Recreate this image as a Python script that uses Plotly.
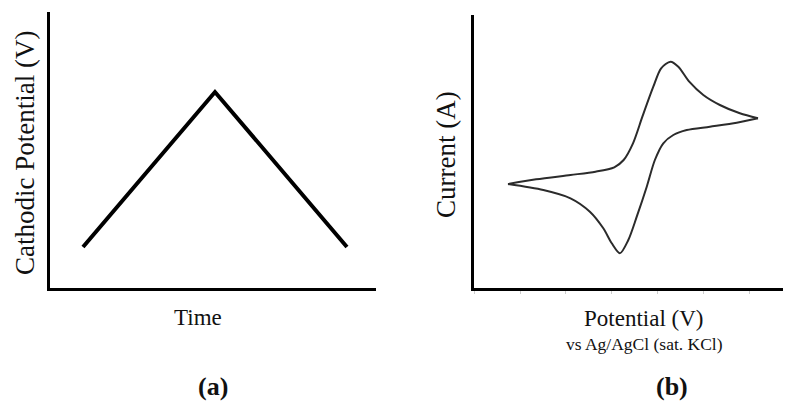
import plotly.graph_objects as go

# ---- data (a): triangular potential sweep ----
time_a = [0, 1, 2]
potential_a = [0.0, 1.0, 0.0]

# ---- data (b): cyclic voltammogram (V, µA) ----
fwd_v = [-0.20, -0.11, 0.00, 0.08, 0.14, 0.17, 0.20, 0.23, 0.265, 0.29, 0.32,
         0.345, 0.38, 0.425, 0.478, 0.542, 0.60]
fwd_i = [0.10, 0.57, 1.00, 1.33, 1.77, 2.50, 4.17, 6.83, 9.83, 11.67, 12.33,
         11.83, 10.33, 9.00, 8.00, 7.17, 6.67]
rev_v = [0.60, 0.532, 0.446, 0.372, 0.329, 0.297, 0.270, 0.244, 0.212, 0.185,
         0.158, 0.132, 0.105, 0.062, 0.00, -0.087, -0.20]
rev_i = [6.67, 6.23, 5.83, 5.50, 5.00, 4.17, 2.50, -0.17, -3.17, -5.50,
         -6.83, -5.83, -4.33, -2.67, -1.33, -0.50, 0.10]

# page body has an 8px margin; figure sized to end at the window edge
OFF = 8
W, H = 791 - OFF, 415 - OFF
FONT = "Liberation Serif, Times New Roman, serif"

def px(x):
    return (x - OFF) / W

def py(y):
    return 1 - (y - OFF) / H

fig = go.Figure()
fig.add_trace(go.Scatter(x=time_a, y=potential_a, mode="lines",
                         line=dict(color="black", width=4),
                         xaxis="x", yaxis="y", showlegend=False, hoverinfo="skip"))
for xv, yv in [(fwd_v, fwd_i), (rev_v, rev_i)]:
    fig.add_trace(go.Scatter(x=xv, y=yv, mode="lines",
                             line=dict(color="#2b2b2b", width=2, shape="spline", smoothing=0.8),
                             xaxis="x2", yaxis="y2", showlegend=False, hoverinfo="skip"))

axis_common = dict(showgrid=False, zeroline=False, showline=True, linecolor="black",
                   linewidth=3, showticklabels=False, ticks="")

fig.update_layout(
    width=W, height=H,
    margin=dict(l=0, r=0, t=0, b=0),
    paper_bgcolor="white", plot_bgcolor="white",
    xaxis=dict(domain=[px(50), px(376)], range=[-0.25, 2.22], anchor="y", **axis_common),
    yaxis=dict(domain=[py(288), py(12)], range=[-0.265, 1.516], anchor="x", **axis_common),
    xaxis2=dict(domain=[px(474), 1.0], range=[-0.3088, 0.7056], anchor="y2",
                showgrid=False, zeroline=False, showline=True, linecolor="black",
                linewidth=3, showticklabels=False, ticks="outside", ticklen=3,
                tickcolor="#cccccc", tickwidth=1, tick0=-0.1616, dtick=0.147),
    yaxis2=dict(domain=[py(288), py(15)], range=[-10.3, 17.0], anchor="x2", **axis_common),
)

def ann(text, x, y, size, angle=0, bold=False):
    fig.add_annotation(text=f"<b>{text}</b>" if bold else text,
                       x=px(x), y=py(y), xref="paper", yref="paper",
                       showarrow=False, textangle=angle,
                       xanchor="center", yanchor="middle",
                       font=dict(family=FONT, size=size, color="#111111"))

ann("Time", 198, 317, 23)
ann("Cathodic Potential (V)", 25, 153, 27, angle=-90)
ann("Current (A)", 446, 154, 27, angle=-90)
ann("Potential (V)", 643, 318, 23)
ann("vs Ag/AgCl (sat. KCl)", 644, 344, 17.5)
ann("(a)", 213, 386, 26, bold=True)
ann("(b)", 672, 386, 26, bold=True)

fig.write_html("out.html")
